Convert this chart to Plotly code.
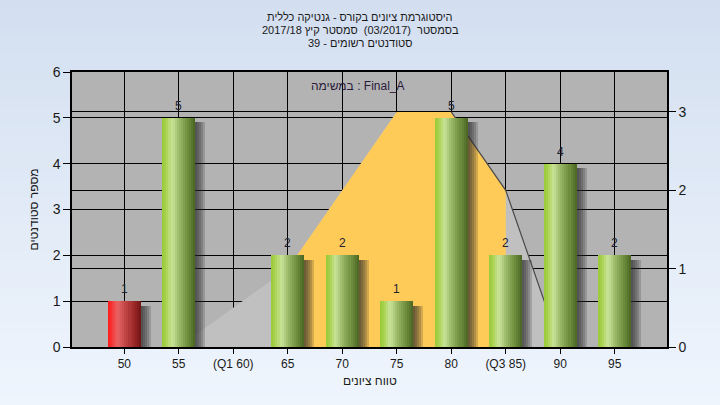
import plotly.graph_objects as go

# ---- data ----
grades = [50, 55, 60, 65, 70, 75, 80, 85, 90, 95]
tick_labels = ["50", "55", "(Q1 60)", "65", "70", "75", "80", "(Q3 85)", "90", "95"]
counts = [1, 5, 0, 2, 2, 1, 5, 2, 4, 2]
curve = [0, 0, 0.5, 1, 2, 3, 3, 2, 0, 0]
pass_grade = 55
iqr_from, iqr_to = 65, 85
line_from = 80

title_lines = ["היסטוגרמת ציונים בקורס - גנטיקה כללית",
               "בסמסטר  (03/2017)  סמסטר קיץ 2017/18",
               "סטודנטים רשומים - 39"]
series_note = "במשימה : Final_A"
x_title = "טווח ציונים"
y_title = "מספר סטודנטים"

# ---- style ----
W, H = 720, 405
ML, MR, MT, MB = 72, 53, 72, 58
PW, PH = W - ML - MR, H - MT - MB
FONT = "Liberation Sans, Arial, DejaVu Sans, sans-serif"
BAR_W = 3.03
NSTRIP = 16

green_scale = [(0.0, "#98c838"), (0.12, "#a8d24e"), (0.3, "#c9e29a"), (0.5, "#9cba68"),
               (0.8, "#6a8a3a"), (1.0, "#4a6424")]
red_scale = [(0.0, "#ff1818"), (0.12, "#f63636"), (0.3, "#e86464"), (0.5, "#c84a4a"),
             (0.8, "#9a2626"), (1.0, "#6e1414")]


def hex2rgb(h):
    h = h.lstrip("#")
    return tuple(int(h[i:i + 2], 16) for i in (0, 2, 4))


def interp(scale, t):
    for (t0, c0), (t1, c1) in zip(scale[:-1], scale[1:]):
        if t0 <= t <= t1:
            f = (t - t0) / (t1 - t0) if t1 > t0 else 0
            a, b = hex2rgb(c0), hex2rgb(c1)
            return "rgb(%d,%d,%d)" % tuple(round(a[i] + (b[i] - a[i]) * f) for i in range(3))
    return scale[-1][1]


fig = go.Figure()

# ---- distribution area (main subplot, right axis) ----
fig.add_trace(go.Scatter(x=grades, y=curve, yaxis="y", mode="lines", fill="tozeroy",
                         fillcolor="#c0c0c0", line=dict(width=0, color="#c0c0c0"),
                         hoverinfo="skip", showlegend=False))
sel = [i for i, g in enumerate(grades) if iqr_from <= g <= iqr_to]
fig.add_trace(go.Scatter(x=[grades[i] for i in sel], y=[curve[i] for i in sel], yaxis="y",
                         mode="lines", fill="tozeroy", fillcolor="#ffcb58",
                         line=dict(width=0, color="#ffcb58"), hoverinfo="skip", showlegend=False))
sel2 = [i for i, g in enumerate(grades) if line_from <= g <= grades[8]]
fig.add_trace(go.Scatter(x=[grades[i] for i in sel2], y=[curve[i] for i in sel2], yaxis="y",
                         mode="lines", line=dict(width=1.2, color="#4a4a4a"),
                         hoverinfo="skip", showlegend=False))

# ---- bars (overlaying subplot, left axis) ----
for k in range(1, 6):
    fig.add_trace(go.Bar(x=grades, y=[max(c - 0.1, 0) for c in counts], yaxis="y2",
                         width=BAR_W, offset=-BAR_W / 2 + k * 0.18,
                         marker=dict(color="rgba(40,40,40,0.2)", line=dict(width=0)),
                         hoverinfo="skip", showlegend=False))

sw = BAR_W / NSTRIP
for s in range(NSTRIP):
    t = (s + 0.5) / NSTRIP
    cols = [interp(red_scale if g < pass_grade else green_scale, t) for g in grades]
    fig.add_trace(go.Bar(x=grades, y=counts, yaxis="y2", width=sw * 1.05,
                         offset=-BAR_W / 2 + s * sw,
                         marker=dict(color=cols, line=dict(width=0)),
                         hoverinfo="skip", showlegend=False))

# ---- background gradient ----
shapes = []
x0p, x1p = -ML / PW, 1 + MR / PW
y0p, y1p = -MB / PH, 1 + MT / PH
top_c, bot_c = hex2rgb("#d3dff0"), hex2rgb("#eff5fd")
N = 45
for i in range(N):
    f = i / (N - 1)
    c = tuple(round(top_c[j] + (bot_c[j] - top_c[j]) * f) for j in range(3))
    ya = y1p - (y1p - y0p) * i / N
    yb = y1p - (y1p - y0p) * (i + 1) / N
    shapes.append(dict(type="rect", xref="paper", yref="paper", x0=x0p, x1=x1p, y0=yb, y1=ya + 0.002,
                       fillcolor="rgb(%d,%d,%d)" % c, line=dict(width=0), layer="below"))
shapes.append(dict(type="rect", xref="paper", yref="paper", x0=0, x1=1, y0=0, y1=1,
                   fillcolor="#b3b3b3", line=dict(width=0), layer="below"))

# ---- text ----
annotations = []
for g, c in zip(grades, counts):
    if c > 0:
        annotations.append(dict(text=str(c), x=g, y=c, xref="x", yref="y2", yshift=12,
                                xanchor="center", yanchor="middle", showarrow=False,
                                font=dict(family=FONT, size=12, color="#1c2130")))
for txt, yp in zip(title_lines, [17, 30, 43]):
    annotations.append(dict(text=txt, xref="paper", yref="paper", x=(360 - ML) / PW,
                            y=(MT + PH - yp) / PH, xanchor="center", yanchor="middle",
                            showarrow=False, font=dict(family=FONT, size=11, color="#1a1a1a")))
annotations.append(dict(text=series_note, xref="paper", yref="paper", x=(358 - ML) / PW,
                        y=(MT + PH - 86) / PH, xanchor="center", yanchor="middle",
                        showarrow=False, font=dict(family=FONT, size=12, color="#2a1a3a")))
annotations.append(dict(text=x_title, xref="paper", yref="paper", x=0.5,
                        y=(MT + PH - 381) / PH, xanchor="center", yanchor="middle",
                        showarrow=False, font=dict(family=FONT, size=12, color="#1a1a1a")))
annotations.append(dict(text=y_title, xref="paper", yref="paper", x=(33 - ML) / PW,
                        y=0.5, xanchor="center", yanchor="middle", textangle=-90,
                        showarrow=False, font=dict(family=FONT, size=12, color="#1a1a1a")))

axis_common = dict(showgrid=True, gridcolor="#000000", gridwidth=1, zeroline=False,
                   showline=True, linecolor="#000000", linewidth=1.5,
                   ticks="outside", ticklen=7, tickcolor="#000000",
                   tickfont=dict(family=FONT, size=14, color="#1a1a1a"))

fig.update_layout(
    width=W, height=H, margin=dict(l=ML, r=MR, t=MT, b=MB),
    paper_bgcolor="#e4ecf7", plot_bgcolor="rgba(0,0,0,0)",
    barmode="overlay", showlegend=False, bargap=0,
    font=dict(family=FONT, size=12, color="#1a1a1a"),
    shapes=shapes, annotations=annotations,
    xaxis=dict(range=[45.2, 99.8], tickmode="array", tickvals=grades, ticktext=tick_labels,
               showgrid=True, gridcolor="#000000", gridwidth=1, zeroline=False,
               showline=True, linecolor="#000000", linewidth=1.5, mirror=True,
               ticks="outside", ticklen=5, tickcolor="#000000",
               tickfont=dict(family=FONT, size=12, color="#1a1a1a")),
    yaxis=dict(range=[0, 3.51], tickvals=[0, 1, 2, 3], side="right", **axis_common),
    yaxis2=dict(range=[0, 6], dtick=1, overlaying="y", side="left", **axis_common),
)

fig.write_html("out.html", config={"displayModeBar": False},
               post_script="document.body.style.margin='0';document.body.style.padding='0';")
